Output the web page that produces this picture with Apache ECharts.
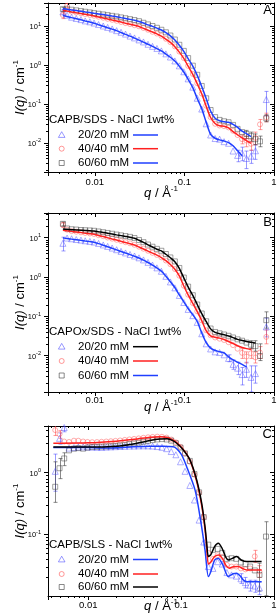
<!DOCTYPE html>
<html>
<head>
<meta charset="utf-8">
<title>SANS</title>
<script src="https://cdn.jsdelivr.net/npm/echarts@6.0.0/dist/echarts.min.js"></script>
<style>
html,body{margin:0;padding:0;background:#ffffff;}
#chart{width:277px;height:614px;}
</style>
</head>
<body>
<div id="chart"></div>
<script>
// ---------------- data ----------------
const Q = [0.0044,0.0049,0.0055,0.0062,0.007,0.0078,0.0088,0.0098,0.011,0.0124,0.0139,0.0156,0.0175,0.0196,0.022,0.0247,0.0277,0.0311,0.0349,0.0392,0.044,0.0493,0.0553,0.0621,0.0697,0.0782,0.0877,0.0984,0.11,0.124,0.139,0.156,0.175,0.196,0.22,0.247,0.277,0.311,0.349,0.392,0.44,0.493,0.553,0.621,0.697,0.82];

// Panel A : CAPB/SDS
const A_tri = [23,18.9,16.8,15.6,14.6,13.5,12.8,11.9,10.9,10.0,9.2,8.4,7.6,6.9,6.2,5.5,4.95,4.4,3.9,3.4,3.0,2.66,2.3,1.93,1.6,1.27,0.95,0.67,0.44,0.27,0.14,0.074,0.031,0.016,0.013,0.0125,0.0108,0.0098,0.0062,0.0048,0.0055,0.004,0.0046,0.0063,null,0.13];
const A_cir = [19,33,23.4,22.2,21.2,20.2,19.2,18.3,17.3,16.3,15.3,14.4,13.6,12.7,11.9,11.2,10.5,9.8,8.9,8.0,7.1,6.4,5.6,4.7,3.85,3.0,2.2,1.5,0.95,0.59,0.34,0.185,0.09,0.046,0.031,0.028,0.027,0.025,0.0205,0.016,0.0125,0.0115,0.0095,0.0135,0.03,0.045];
const A_sq = [27,27.8,26.2,25.2,24.1,23.2,22.3,21.4,20.6,19.8,19.0,18.2,17.5,16.6,15.8,15.0,14.2,13.3,12.1,11.0,10.0,9.0,8.0,6.9,5.7,4.5,3.3,2.3,1.5,0.96,0.56,0.29,0.14,0.07,0.046,0.039,0.036,0.034,0.029,0.023,0.019,0.017,0.015,0.0125,0.011,0.043];
const A_fit20 = [18.7,17.6,16.4,15.4,14.4,13.5,12.6,11.8,10.8,9.9,9.06,8.3,7.6,6.8,6.1,5.5,4.9,4.35,3.85,3.4,3.0,2.63,2.29,1.9,1.58,1.26,0.93,0.66,0.43,0.263,0.138,0.076,0.034,0.0166,0.0132,0.012,0.0112,0.0102,0.0085,0.0063,0.0047];
const A_fit40 = [25.4,24.2,23.0,21.9,20.9,20.0,19.0,18.1,17.1,16.1,15.1,14.2,13.4,12.6,11.8,11.1,10.4,9.7,8.7,7.8,7.0,6.3,5.5,4.6,3.8,2.95,2.14,1.48,0.93,0.575,0.33,0.182,0.087,0.045,0.0316,0.0275,0.027,0.0245,0.0195,0.0162,0.0135,0.0115,0.0098];
const A_fit60 = [28.1,26.9,25.9,24.9,23.9,23.0,22.1,21.2,20.4,19.6,18.8,18.0,17.3,16.4,15.6,14.8,14.0,13.1,11.9,10.7,9.8,8.8,7.9,6.8,5.6,4.4,3.2,2.24,1.46,0.94,0.54,0.28,0.138,0.066,0.043,0.037,0.035,0.034,0.030,0.025,0.020,0.0174,0.0145];
const A_err20 = [[0.0044,20,26.5],[0.392,0.0033,0.0065],[0.44,0.0035,0.0078],[0.493,0.0022,0.0062],[0.553,0.003,0.0065],[0.621,0.0038,0.009],[0.82,0.05,0.21]];
const A_err40 = [[0.0044,15.5,23],[0.0049,29,38],[0.44,0.0095,0.016],[0.493,0.008,0.015],[0.553,0.0065,0.0125],[0.621,0.009,0.019],[0.697,0.022,0.04],[0.82,0.035,0.058]];
const A_err60 = [[0.0044,24,30],[0.493,0.013,0.021],[0.553,0.011,0.019],[0.621,0.009,0.017],[0.697,0.008,0.015],[0.82,0.035,0.053]];

// Panel B : CAPOx/SDS
const B_tri = [7.2,9.8,9.4,9.0,8.7,8.35,8.05,7.75,7.15,6.55,6.0,5.45,4.95,4.5,4.1,3.75,3.42,3.08,2.72,2.36,2.02,1.71,1.4,1.04,0.75,0.53,0.34,0.225,0.15,0.104,0.07,0.036,0.02,0.0148,0.0125,0.012,0.0105,0.0085,0.006,0.0048,0.0033,0.0045,0.0028,0.0035,null,0.054];
const B_cir = [21,16,14.7,14.2,13.7,13.2,12.8,12.4,11.6,10.9,10.1,9.45,8.85,8.25,7.7,7.2,6.6,5.9,5.25,4.65,4.12,3.65,3.17,2.63,2.12,1.6,1.08,0.6,0.355,0.217,0.134,0.079,0.044,0.033,0.029,0.027,0.025,0.022,0.0185,0.015,0.0118,0.0095,0.0115,0.009,0.012,0.03];
const B_sq = [22.5,17.2,16.4,16.1,15.7,15.5,15.3,15.0,14.4,13.8,13.2,12.6,12.0,11.5,11.0,10.5,9.8,8.75,7.7,6.7,5.9,5.2,4.65,3.85,3.15,2.5,1.7,0.97,0.57,0.345,0.2,0.118,0.075,0.049,0.04,0.037,0.0345,0.032,0.029,0.026,0.024,0.0215,0.019,0.0175,0.0098,0.08];
const B_fit20 = [9.9,9.5,9.2,8.9,8.55,8.25,7.95,7.67,7.08,6.46,5.9,5.37,4.9,4.47,4.07,3.72,3.39,3.05,2.69,2.34,2.0,1.7,1.41,1.05,0.76,0.54,0.35,0.234,0.158,0.11,0.074,0.038,0.0214,0.0155,0.0135,0.0126,0.0117,0.0093,0.0078,0.0068,0.006,0.0052];
const B_fit40 = [15.5,15.0,14.5,14.0,13.5,13.0,12.6,12.2,11.4,10.7,9.95,9.3,8.7,8.1,7.55,7.05,6.5,5.8,5.15,4.57,4.06,3.6,3.13,2.6,2.09,1.58,1.07,0.59,0.35,0.214,0.132,0.078,0.043,0.032,0.0295,0.0279,0.0257,0.0229,0.0204,0.0178,0.0162,0.0151,0.0143];
const B_fit60 = [16.6,16.3,16.0,15.8,15.5,15.3,15.1,14.8,14.2,13.6,13.0,12.4,11.8,11.3,10.8,10.3,9.66,8.6,7.6,6.6,5.8,5.1,4.6,3.8,3.1,2.45,1.66,0.95,0.56,0.34,0.20,0.117,0.074,0.048,0.039,0.036,0.034,0.0316,0.0288,0.026,0.0243,0.0229,0.0219,0.0209];
const B_err20 = [[0.0044,4.6,10.3],[0.311,0.007,0.0105],[0.349,0.0045,0.0078],[0.392,0.0033,0.0068],[0.44,0.0018,0.005],[0.493,0.0028,0.0068],[0.553,0.0012,0.0055],[0.621,0.002,0.0055],[0.82,0.03,0.09]];
const B_err40 = [[0.0044,18.5,24],[0.44,0.0085,0.015],[0.493,0.0065,0.0125],[0.553,0.0085,0.015],[0.621,0.0065,0.0125],[0.697,0.0085,0.017],[0.82,0.02,0.045]];
const B_err60 = [[0.0044,20,25],[0.553,0.015,0.024],[0.621,0.013,0.024],[0.697,0.0075,0.02],[0.82,0.05,0.13]];

// Panel C : CAPB/SLS
const C_tri = [1.05,3.6,5.4,2.5,2.55,2.6,2.62,2.6,2.6,2.58,2.57,2.6,2.62,2.64,2.66,2.68,2.7,2.7,2.72,2.72,2.72,2.7,2.65,2.58,2.45,2.2,1.95,1.5,1.05,0.62,0.36,0.17,0.075,0.03,0.028,0.036,0.033,0.024,0.022,0.021,0.019,0.0165,0.015,0.0145,0.0135,null];
const C_cir = [4.9,4.2,3.2,3.15,3.3,3.3,3.2,3.15,3.12,3.14,3.17,3.2,3.24,3.28,3.33,3.4,3.46,3.53,3.6,3.68,3.75,3.8,3.84,3.82,3.7,3.45,3.1,2.62,2.05,1.5,0.93,0.47,0.19,0.05,0.04,0.046,0.043,0.032,0.03,0.03,0.028,0.027,0.028,0.044,0.025,null];
const C_sq = [0.59,1.18,1.7,2.3,2.45,2.5,2.45,2.55,2.6,2.62,2.64,2.66,2.68,2.71,2.76,2.82,2.9,2.98,3.07,3.18,3.28,3.38,3.46,3.5,3.45,3.3,3.0,2.55,2.05,1.55,0.95,0.48,0.19,0.068,0.056,0.058,0.05,0.04,0.041,0.04,0.035,0.033,0.03,0.026,0.022,0.092];
const C_fitQ20 = [0.0042,0.01,0.0134,0.02,0.0306,0.0462,0.0592,0.0698,0.0822,0.1,0.1146,0.141,0.1596,0.1807,0.1963,0.209,0.229,0.251,0.282,0.322,0.363,0.396,0.44,0.467,0.508,0.736];
const C_fit20 = [2.57,2.57,2.5,2.54,2.63,2.69,2.69,2.66,2.64,2.0,1.25,0.525,0.194,0.0558,0.0207,0.025,0.038,0.041,0.0316,0.0207,0.0229,0.0234,0.0205,0.0182,0.0171,0.0171];
const C_fitQ40 = [0.0042,0.01,0.02,0.0316,0.0462,0.0592,0.0708,0.0813,0.0895,0.104,0.1245,0.147,0.1663,0.1807,0.1884,0.1963,0.209,0.229,0.256,0.28,0.302,0.33,0.363,0.413,0.467,0.508,0.736];
const C_fit40 = [3.0,3.05,3.24,3.47,3.76,3.84,3.72,3.39,3.09,2.45,1.58,0.72,0.295,0.12,0.063,0.033,0.0355,0.0437,0.0463,0.04,0.0316,0.0282,0.0298,0.030,0.0275,0.0265,0.0265];
const C_fitQ60 = [0.0042,0.01,0.02,0.0316,0.0462,0.0592,0.0708,0.0813,0.0895,0.104,0.1245,0.147,0.1663,0.1807,0.1884,0.1963,0.209,0.229,0.251,0.275,0.302,0.322,0.355,0.396,0.447,0.508,0.736];
const C_fit60 = [2.6,2.6,2.69,2.95,3.31,3.5,3.55,3.31,3.0,2.4,1.61,0.76,0.32,0.133,0.072,0.0436,0.047,0.063,0.0716,0.06,0.0427,0.0385,0.0407,0.0436,0.038,0.0361,0.0361];
const C_err20 = [[0.0044,0.5,2.0],[0.0049,2.9,4.4],[0.0055,4.6,6.5],[0.44,0.016,0.023],[0.493,0.0135,0.02],[0.553,0.012,0.018],[0.621,0.0115,0.018],[0.697,0.0105,0.017]];
const C_err40 = [[0.0044,4.0,5.8],[0.0049,3.6,4.8],[0.621,0.035,0.055],[0.697,0.02,0.031]];
const C_err60 = [[0.0044,0.33,1.5],[0.0049,0.8,1.7],[0.0055,1.3,2.1],[0.697,0.012,0.034],[0.82,0.0101,0.16]];

const LEG_LABELS = ['20/20 mM','40/40 mM','60/60 mM'];

// ---------------- styling / layout ----------------
const FONT = '"Liberation Sans", Arial, Helvetica, sans-serif';
const BLUE = '#1f3fff', RED = '#ff2020', BLACK = '#000000';
const TRI_C = 'rgba(70,70,255,0.55)', CIR_C = 'rgba(255,70,70,0.55)', SQ_C = 'rgba(60,60,60,0.6)';
const GL = 48, GR = 3;

const PANELS = [
  { top:3, height:169, xmin:0.003, ymin:0.0018, ymax:38.9, xNameGap:12.5, xLabelMargin:5, hideMinY:false,
    tri:A_tri, cir:A_cir, sq:A_sq,
    fits:[[Q,A_fit20,BLUE],[Q,A_fit40,RED],[Q,A_fit60,BLUE]],
    errs:[[A_err20,TRI_C],[A_err40,CIR_C],[A_err60,SQ_C]],
    letter:'A', letterY:4, legTitle:'CAPB/SDS - NaCl 1wt%', legY:[119.5,135,148.7,163], legColors:[BLUE,RED,BLUE] },
  { top:213, height:179, xmin:0.003, ymin:0.00119, ymax:42.5, xNameGap:6.5, xLabelMargin:3.5, hideMinY:false,
    tri:B_tri, cir:B_cir, sq:B_sq,
    fits:[[Q,B_fit20,BLUE],[Q,B_fit40,RED],[Q,B_fit60,BLACK]],
    errs:[[B_err20,TRI_C],[B_err40,CIR_C],[B_err60,SQ_C]],
    letter:'B', letterY:216, legTitle:'CAPOx/SDS - NaCl 1wt%', legY:[332,346.7,361,375.5], legColors:[BLACK,RED,BLUE] },
  { top:426, height:170, xmin:0.00368, ymin:0.01, ymax:5.71, xNameGap:1.5, xLabelMargin:4.5, hideMinY:true,
    tri:C_tri, cir:C_cir, sq:C_sq,
    fits:[[C_fitQ20,C_fit20,BLUE],[C_fitQ40,C_fit40,RED],[C_fitQ60,C_fit60,BLACK]],
    errs:[[C_err20,TRI_C],[C_err40,CIR_C],[C_err60,SQ_C]],
    letter:'C', letterY:428, legTitle:'CAPB/SLS - NaCl 1wt%', legY:[544.5,559.5,574,587], legColors:[BLUE,RED,BLACK] }
];

function isPow(v){ const e = Math.log10(v); return Math.abs(e - Math.round(e)) < 1e-6; }
function yLabel(v){ if(!isPow(v)) return ''; return '{b|10}{s|' + Math.round(Math.log10(v)) + '}'; }
function xLabel(v){ if(!isPow(v)) return ''; const r = Math.round(Math.log10(v)); return r===0?'1':(r===-1?'0.1':(r===-2?'0.01':'')); }

function minorValues(lo, hi){
  const out = [];
  for (let e = Math.floor(Math.log10(lo)); e <= Math.ceil(Math.log10(hi)); e++){
    for (let m = 2; m <= 9; m++){ const v = m * Math.pow(10, e); if (v > lo && v < hi) out.push(v); }
  }
  return out;
}

const grids = [], xAxes = [], yAxes = [], series = [], graphics = [];

PANELS.forEach((p, gi) => {
  grids.push({ left:GL, right:GR, top:p.top, height:p.height, containLabel:false, outerBoundsMode:'none' });
  const xb = { type:'log', logBase:10, gridIndex:gi, min:p.xmin, max:1, position:'bottom',
    axisLine:{show:true, onZero:false, lineStyle:{color:'#000', width:1}},
    axisTick:{show:true, inside:false, length:4, lineStyle:{color:'#000'}},
    splitLine:{show:false},
    axisLabel:{show:true, formatter:xLabel, margin:p.xLabelMargin, fontSize:9.5, fontFamily:FONT, color:'#000', showMinLabel:true, showMaxLabel:true, hideOverlap:false},
    name:'{i|q}{n| / Å}{s|-1}', nameLocation:'middle', nameGap:p.xNameGap, nameMoveOverlap:false,
    nameTextStyle:{ fontFamily:FONT, color:'#000', rich:{
      i:{fontSize:13, fontStyle:'italic', fontFamily:FONT, lineHeight:15, verticalAlign:'bottom'},
      n:{fontSize:13, fontFamily:FONT, lineHeight:15, verticalAlign:'bottom'},
      s:{fontSize:8, fontFamily:FONT, lineHeight:8, verticalAlign:'top'} } } };
  const xt = { type:'log', logBase:10, gridIndex:gi, min:p.xmin, max:1, position:'top',
    axisLine:{show:true, onZero:false, lineStyle:{color:'#000', width:1}},
    axisTick:{show:true, inside:true, length:4, lineStyle:{color:'#000'}},
    splitLine:{show:false}, axisLabel:{show:false} };
  const yl = { type:'log', logBase:10, gridIndex:gi, min:p.ymin, max:p.ymax, position:'left',
    axisLine:{show:true, onZero:false, lineStyle:{color:'#000', width:1}},
    axisTick:{show:true, inside:false, length:4, lineStyle:{color:'#000'}},
    splitLine:{show:false},
    axisLabel:{show:true, formatter:yLabel, margin:7, color:'#000', showMinLabel:!p.hideMinY, hideOverlap:false,
      rich:{ b:{fontSize:7.5, fontFamily:FONT, color:'#000', lineHeight:10, verticalAlign:'bottom'},
             s:{fontSize:5.5, fontFamily:FONT, color:'#000', lineHeight:6, verticalAlign:'top'} } },
    name:'{i|I(q)}{n| / cm}{s|-1}', nameLocation:'middle', nameRotate:90, nameGap:21, nameMoveOverlap:false,
    nameTextStyle:{ fontFamily:FONT, color:'#000', rich:{
      i:{fontSize:13, fontStyle:'italic', fontFamily:FONT, lineHeight:15, verticalAlign:'bottom'},
      n:{fontSize:13, fontFamily:FONT, lineHeight:15, verticalAlign:'bottom'},
      s:{fontSize:8, fontFamily:FONT, lineHeight:8, verticalAlign:'top'} } } };
  const yr = { type:'log', logBase:10, gridIndex:gi, min:p.ymin, max:p.ymax, position:'right',
    axisLine:{show:true, onZero:false, lineStyle:{color:'#000', width:1}},
    axisTick:{show:true, inside:true, length:4, lineStyle:{color:'#000'}},
    splitLine:{show:false}, axisLabel:{show:false} };
  xAxes.push(xb, xt); yAxes.push(yl, yr);
  const xi = gi*2, yi = gi*2;

  // error bars
  p.errs.forEach(([arr, col]) => {
    series.push({ type:'custom', xAxisIndex:xi, yAxisIndex:yi, data:arr, clip:true, silent:true, z:1,
      encode:{x:0, y:[1,2]},
      renderItem:(params, api) => {
        const a = api.coord([api.value(0), api.value(1)]);
        const b = api.coord([api.value(0), api.value(2)]);
        const px = Math.round(a[0]) + 0.5;
        const st = {stroke:col, lineWidth:1, fill:null};
        return {type:'group', children:[
          {type:'line', shape:{x1:px, y1:a[1], x2:px, y2:b[1]}, style:st},
          {type:'line', shape:{x1:px-2, y1:a[1], x2:px+2, y2:a[1]}, style:st},
          {type:'line', shape:{x1:px-2, y1:b[1], x2:px+2, y2:b[1]}, style:st}
        ]};
      } });
  });

  // scatter data
  const mk = (arr, sym, col, size) => ({ type:'scatter', xAxisIndex:xi, yAxisIndex:yi, silent:true, z:2,
    symbol:sym, symbolSize:size,
    itemStyle:{color:'rgba(0,0,0,0)', borderColor:col, borderWidth:1},
    data: Q.map((q,i) => arr[i] == null ? null : [q, arr[i]]).filter(d => d) });
  series.push(mk(p.tri, 'triangle', TRI_C, 6));
  series.push(mk(p.cir, 'circle', CIR_C, 5));
  series.push(mk(p.sq, 'rect', SQ_C, 5));

  // fits
  p.fits.forEach(([qa, va, col]) => {
    series.push({ type:'line', xAxisIndex:xi, yAxisIndex:yi, silent:true, z:3, symbol:'none', showSymbol:false,
      smooth:0.25, lineStyle:{color:col, width:1.5},
      data: va.map((v,j) => [qa[j], v]) });
  });

  // minor ticks on all four sides
  const minorData = minorValues(p.xmin, 1).map(v => [v, p.ymin, 0])
    .concat(minorValues(p.ymin, p.ymax).map(v => [p.xmin, v, 1]));
  series.push({ type:'custom', xAxisIndex:xi, yAxisIndex:yi, data:minorData, clip:false, silent:true, z:4,
    renderItem:(params, api) => {
      const cs = params.coordSys;
      const pt = api.coord([api.value(0), api.value(1)]);
      const st = {stroke:'#000', lineWidth:1};
      if (api.value(2) === 0) {
        const x = Math.round(pt[0]) + 0.5;
        const yb = Math.round(cs.y + cs.height), yt = Math.round(cs.y);
        return {type:'group', children:[
          {type:'line', shape:{x1:x, y1:yb, x2:x, y2:yb+2}, style:st},
          {type:'line', shape:{x1:x, y1:yt, x2:x, y2:yt+2}, style:st}]};
      }
      const y = Math.round(pt[1]) + 0.5;
      const xl = Math.round(cs.x), xr = Math.round(cs.x + cs.width);
      return {type:'group', children:[
        {type:'line', shape:{x1:xl-2, y1:y, x2:xl, y2:y}, style:st},
        {type:'line', shape:{x1:xr-2, y1:y, x2:xr, y2:y}, style:st}]};
    } });

  // panel letter
  graphics.push({ type:'text', x:272, y:p.letterY, z:10,
    style:{ text:p.letter, font:'13px ' + FONT, fill:'#000', textAlign:'right', align:'right', textVerticalAlign:'top', verticalAlign:'top' } });

  // legend
  graphics.push({ type:'text', x:49, y:p.legY[0], z:10,
    style:{ text:p.legTitle, font:'11.5px ' + FONT, fill:'#000', textVerticalAlign:'middle', verticalAlign:'middle' } });
  for (let r = 0; r < 3; r++) {
    const y = p.legY[r+1], x = 61.7;
    let sym;
    if (r === 0) sym = { type:'polygon', shape:{points:[[x, y-3.3],[x+3.3, y+2.4],[x-3.3, y+2.4]]}, style:{fill:'none', stroke:TRI_C, lineWidth:1} };
    else if (r === 1) sym = { type:'circle', shape:{cx:x, cy:y, r:2.5}, style:{fill:'none', stroke:CIR_C, lineWidth:1} };
    else sym = { type:'rect', shape:{x:x-2.5, y:y-2.5, width:5, height:5}, style:{fill:'none', stroke:SQ_C, lineWidth:1} };
    sym.z = 10;
    graphics.push(sym);
    graphics.push({ type:'text', x:78, y:y, z:10,
      style:{ text:LEG_LABELS[r], font:'11.5px ' + FONT, fill:'#000', textVerticalAlign:'middle', verticalAlign:'middle' } });
    graphics.push({ type:'line', z:10, shape:{x1:133, y1:y, x2:158, y2:y}, style:{stroke:p.legColors[r], lineWidth:1.5} });
  }
});

const chart = echarts.init(document.getElementById('chart'), null, {renderer:'canvas', width:277, height:614});
chart.setOption({
  animation:false,
  backgroundColor:'#ffffff',
  textStyle:{fontFamily:FONT},
  grid:grids, xAxis:xAxes, yAxis:yAxes, series:series, graphic:graphics
});
</script>
</body>
</html>
